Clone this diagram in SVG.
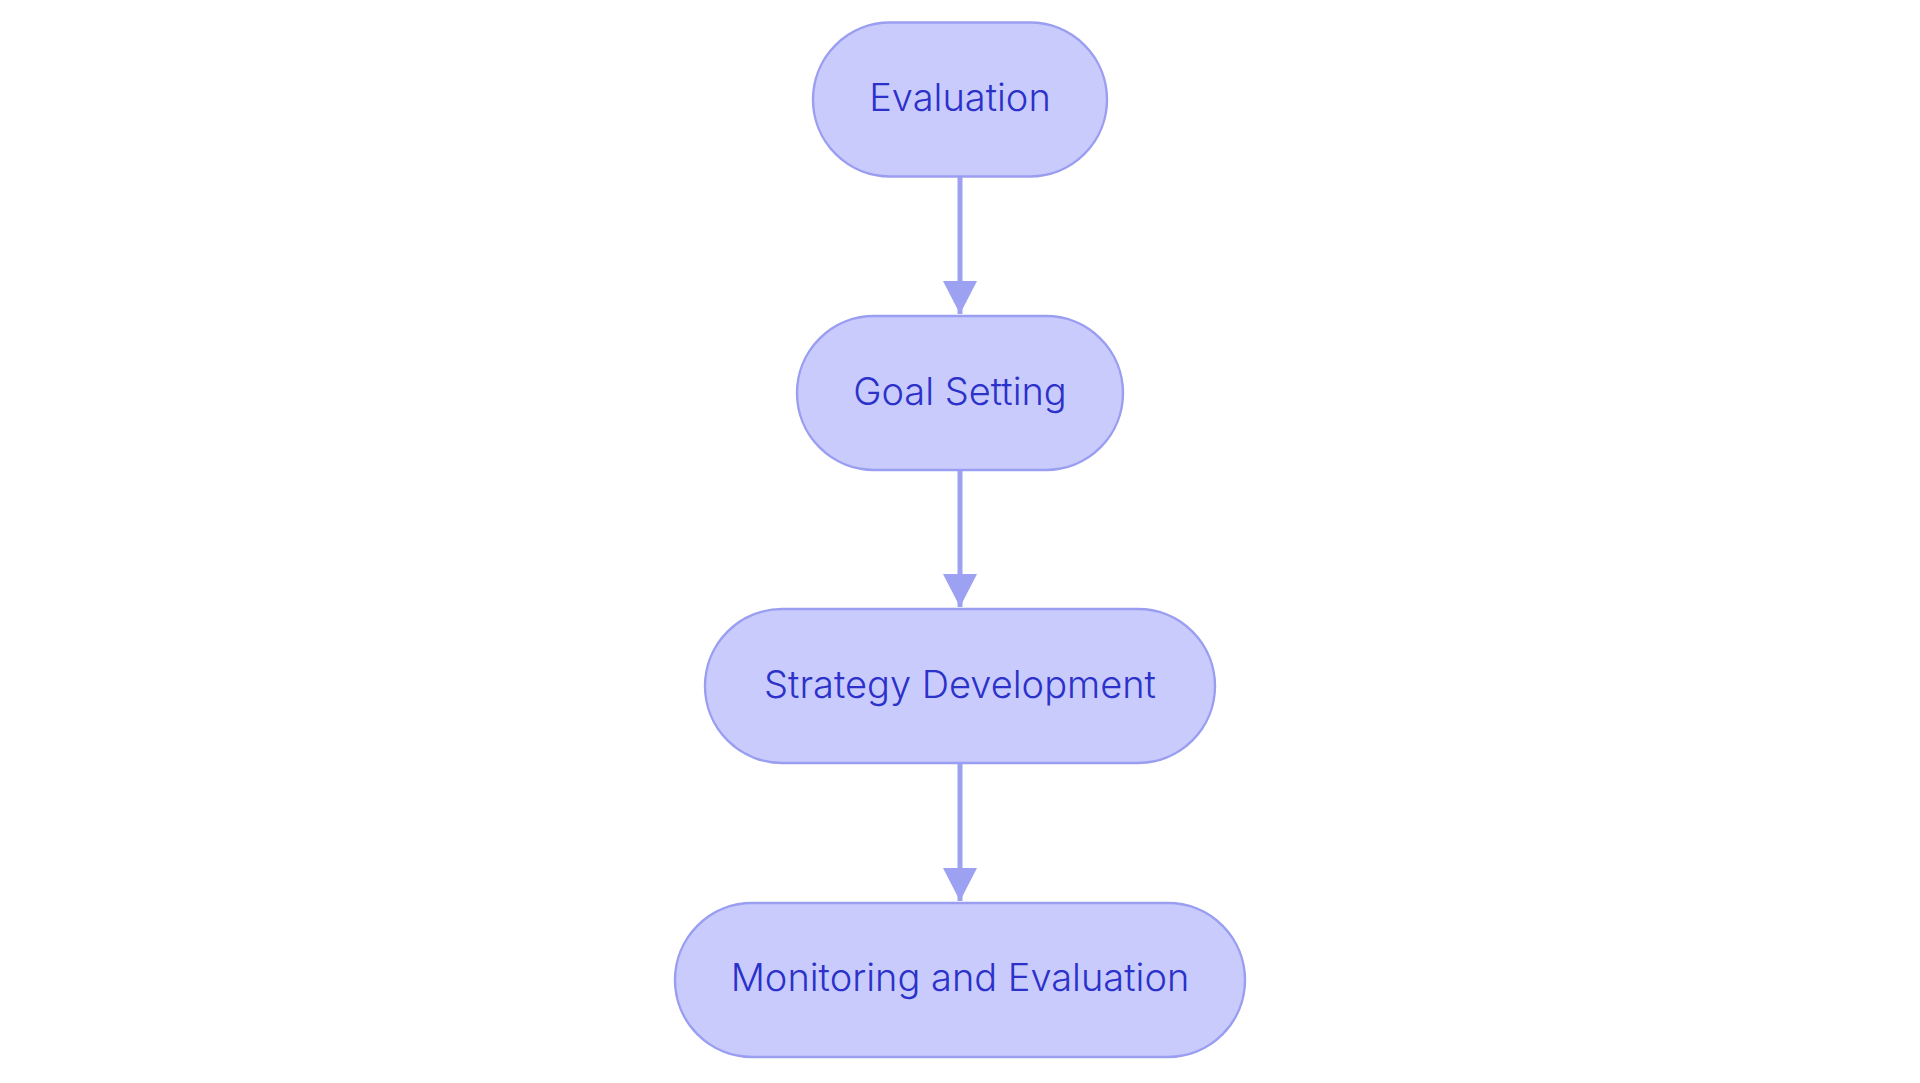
<svg xmlns="http://www.w3.org/2000/svg" width="1920" height="1083" viewBox="0 0 1920 1083">
<style>
.node rect{fill:#c9cbfd;stroke:#9a9ef0;stroke-width:2.4}
.node text{font-family:Inter,"Noto Sans",sans-serif;font-size:38px;font-weight:300;fill:#2b31c9;text-anchor:middle}
.edge{stroke:#9da1f1;stroke-width:5;fill:none}
</style>
<defs>
<marker id="arrow" markerUnits="userSpaceOnUse" markerWidth="34" markerHeight="34" refX="33" refY="17" orient="auto" viewBox="0 0 34 34">
<path d="M0,0 L33,17 L0,34 Z" fill="#9da1f1"/>
</marker>
</defs>
<rect width="1920" height="1083" fill="#ffffff"/>
<g id="connectors">
<path class="edge" d="M960,177 L960,314" marker-end="url(#arrow)"/>
<path class="edge" d="M960,471 L960,607" marker-end="url(#arrow)"/>
<path class="edge" d="M960,764 L960,901" marker-end="url(#arrow)"/>
</g>
<g id="evaluation" class="node">
<rect x="813" y="22.5" width="294" height="154" rx="77"/>
<text x="960" y="111">Evaluation</text>
</g>
<g id="goal-setting" class="node">
<rect x="797" y="316" width="326" height="154" rx="77"/>
<text x="960" y="405">Goal Setting</text>
</g>
<g id="strategy-development" class="node">
<rect x="705" y="609" width="510" height="154" rx="77"/>
<text x="960" y="698">Strategy Development</text>
</g>
<g id="monitoring-evaluation" class="node">
<rect x="675" y="903" width="570" height="154" rx="77"/>
<text x="960" y="991">Monitoring and Evaluation</text>
</g>
</svg>
